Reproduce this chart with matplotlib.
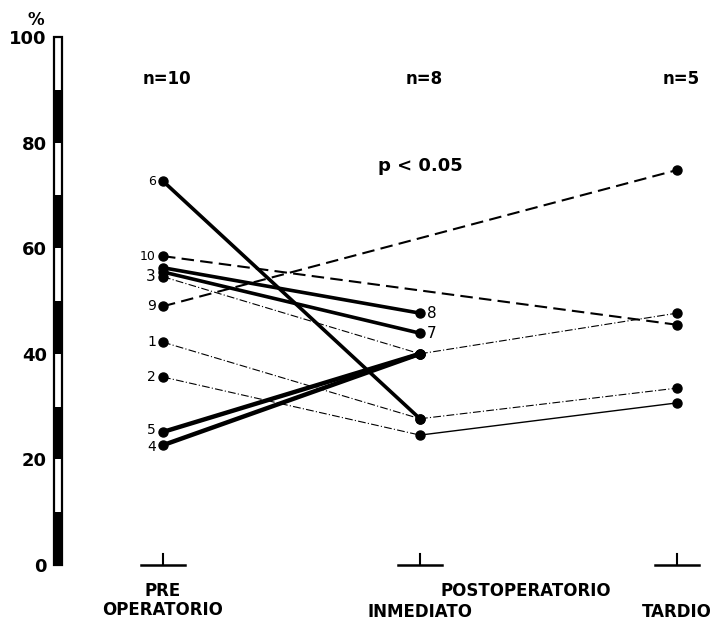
import matplotlib
matplotlib.use("Agg")
import matplotlib.pyplot as plt
import numpy as np

# periods (x positions 0, 1, 2)
periods = ["PRE\nOPERATORIO", "INMEDIATO", "TARDIO"]
n_labels = ["n=10", "n=8", "n=5"]

# percent value per patient: pre-op, immediate post-op, late post-op
p1 = [42.2, 27.7, 33.5]
p2 = [35.6, 24.6, 30.7]
p3 = [54.6, 40.0, 47.7]
p4 = [22.7, 40.0, np.nan]
p5 = [25.2, 40.0, np.nan]
p6 = [72.7, 27.7, np.nan]
p7 = [55.5, 43.9, np.nan]
p8 = [56.3, 47.7, np.nan]
p9 = [49.0, np.nan, 74.8]
p10 = [58.5, np.nan, 45.5]

patients = {'1': p1, '2': p2, '3': p3, '4': p4, '5': p5,
            '6': p6, '7': p7, '8': p8, '9': p9, '10': p10}

THICK = dict(lw=2.6, ls='-')
DASH = dict(lw=1.5, dashes=(6, 3))
DASHDOT = dict(lw=0.8, dashes=(7, 2, 1, 2))
THIN = dict(lw=1.0, ls='-')

# style of each segment of each patient
seg_styles = {
    '1': [DASHDOT, DASHDOT],
    '2': [DASHDOT, THIN],
    '3': [DASHDOT, DASHDOT],
    '4': [dict(lw=3.2, ls='-')],
    '5': [dict(lw=3.2, ls='-')],
    '6': [THICK],
    '7': [THICK],
    '8': [THICK],
    '9': [DASH],
    '10': [DASH],
}

W, H = 722, 622
fig = plt.figure(figsize=(W / 100, H / 100), dpi=100)

x_left_px, x0_px, x2_px = 58, 163, 677
unit = (x2_px - x0_px) / 2
xmin = -(x0_px - x_left_px) / unit
xmax = 2 + (W - x2_px) / unit
y0_px, y100_px = 565, 37
ax = fig.add_axes([x_left_px / W, (H - y0_px) / H,
                   (W - x_left_px) / W, (y0_px - y100_px) / H])
ax.set_xlim(xmin, xmax)
ax.set_ylim(0, 100)
for s in ax.spines.values():
    s.set_visible(False)
ax.set_xticks([])

font = dict(family='DejaVu Sans', weight='bold')

# striped vertical axis bar
bw = 8 / unit
ax.bar(xmin, 100, width=bw, bottom=0, facecolor='white', edgecolor='black',
       lw=1.6, clip_on=False, zorder=3)
ax.bar([xmin] * 5, 10, width=bw, bottom=[0, 20, 40, 60, 80], color='black',
       clip_on=False, zorder=4)
ax.set_yticks([0, 20, 40, 60, 80, 100])
ax.tick_params(axis='y', length=0, pad=8, labelsize=13)
for lab in ax.get_yticklabels():
    lab.set_fontweight('bold')
ax.text(xmin - 22 / unit, 103.3, '%', ha='center', va='center', fontsize=12, **font)

# patient lines
xs = np.arange(3)
for pid, vals in patients.items():
    v = np.array(vals, dtype=float)
    idx = [i for i in range(3) if not np.isnan(v[i])]
    for k in range(len(idx) - 1):
        st = seg_styles[pid][min(k, len(seg_styles[pid]) - 1)]
        a, b = idx[k], idx[k + 1]
        ax.plot(xs[[a, b]], v[[a, b]], color='black', solid_capstyle='round', **st)
    ax.plot(xs[idx], v[idx], ls='none', marker='o', ms=6.5, color='black', zorder=5)

# patient number labels (size, small vertical nudge)
pre_labels = {'6': (9, 0), '10': (9, 0), '3': (11, 0), '9': (10, 0), '1': (10, 0),
              '2': (10, 0), '5': (10, 0.4), '4': (10, -0.4)}
for pid, (fs, dy) in pre_labels.items():
    ax.text(-7 / unit, patients[pid][0] + dy, pid, ha='right', va='center', fontsize=fs,
            family='DejaVu Sans')
for pid in ['8', '7']:
    ax.text(1 + 7 / unit, patients[pid][1], pid, ha='left', va='center', fontsize=11,
            family='DejaVu Sans')

# n labels and p value
for i, t in enumerate(n_labels):
    ax.text(xs[i] + 4 / unit, 92.0, t, ha='center', va='center', fontsize=12, **font)
ax.text(1, 75.5, 'p < 0.05', ha='center', va='center', fontsize=13, **font)

# bottom inverted-T ticks
for x in xs:
    ax.plot([x - 22 / unit, x + 22 / unit], [0, 0], color='black', lw=1.8, clip_on=False)
    ax.plot([x, x], [0, 2], color='black', lw=1.5, clip_on=False)

ax.text(0, -3.2, periods[0], ha='center', va='top', fontsize=12, linespacing=1.1, **font)
ax.text(1.41, -3.2, 'POSTOPERATORIO', ha='center', va='top', fontsize=12, **font)
ax.text(1, -7.2, periods[1], ha='center', va='top', fontsize=12, **font)
ax.text(2, -7.2, periods[2], ha='center', va='top', fontsize=12, **font)

fig.savefig('out.png', dpi=100)
